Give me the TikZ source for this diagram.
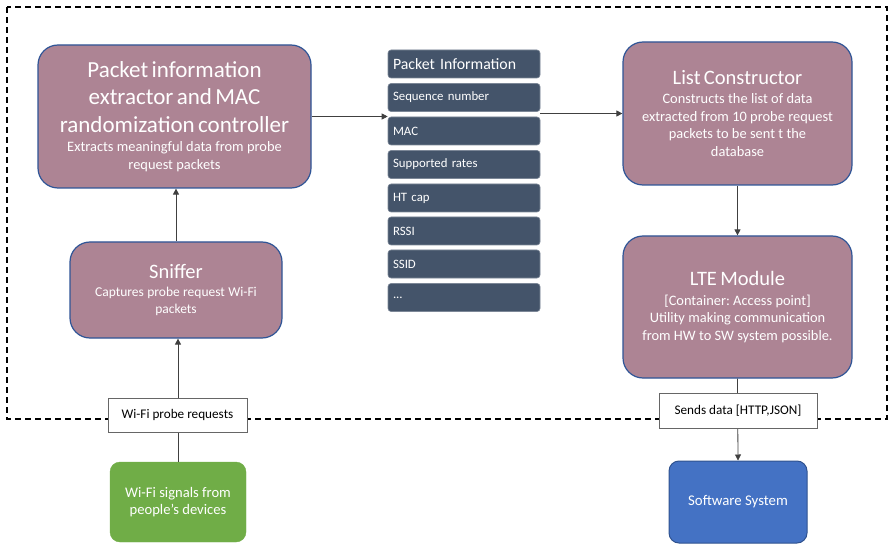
\documentclass[tikz,border=0pt]{standalone}
\usepackage{fontspec}
\setmainfont{Carlito}
\usetikzlibrary{arrows.meta}
\frenchspacing
\definecolor{mauve}{RGB}{173,132,148}
\definecolor{bord}{RGB}{47,85,151}
\definecolor{slate}{RGB}{68,84,106}
\definecolor{wgreen}{RGB}{112,173,71}
\definecolor{wblue}{RGB}{68,114,196}
\definecolor{wbluedark}{RGB}{47,82,143}
\newcommand{\ttl}{\fontsize{23}{27.5}\selectfont}
\newcommand{\ttlb}{\fontsize{20.5}{24.5}\selectfont}
\newcommand{\subt}{\fontsize{14.4}{17.5}\selectfont}
\newcommand{\subtb}{\fontsize{13.5}{17}\selectfont}
\begin{document}
\begin{tikzpicture}[x=1pt,y=-1pt,
  mbox/.style={draw=bord, line width=1.2pt, fill=mauve, rounded corners=20pt, text=white, align=center, inner sep=0pt},
  prow/.style={draw=slate!70!white, line width=0.6pt, fill=slate, rounded corners=3pt, text=white, align=left, text width=142pt, inner xsep=5pt, inner ysep=0pt, minimum height=28pt, font=\fontsize{12.8}{15}\selectfont},
  lbl/.style={draw=black!60, line width=0.7pt, fill=white, inner sep=0pt, font=\fontsize{13.2}{15}\selectfont},
  conn/.style={draw=black!75, line width=0.8pt, -{Triangle[length=6pt,width=6pt]}}
]
\useasboundingbox (0,0) rectangle (888,545);
\draw[black, line width=1.3pt, dash pattern=on 6pt off 4pt] (7,7) rectangle (887,419);

% left column
\node[mbox, minimum width=273pt, minimum height=143pt, text width=265pt] (ext) at (174.5,116.5)
  {\ttl Packet information\\ extractor and MAC\\ randomization controller\par\vspace{2pt}
   \subt Extracts meaningful data from probe\\ request packets\par};
\node[mbox, minimum width=212pt, minimum height=96pt, text width=205pt] (sn) at (176,290)
  {\ttlb Sniffer\par\vspace{1pt} \subtb Captures probe request Wi-Fi\\ packets\par};
\node[draw=wgreen, fill=wgreen, rounded corners=10pt, text=white, align=center, inner sep=0pt,
  minimum width=136pt, minimum height=80pt, font=\fontsize{14.6}{17.7}\selectfont] (grn) at (178,502)
  {Wi-Fi signals from\\ people’s devices};

% packet info column
\node[prow, font=\fontsize{15.8}{18}\selectfont] (p0) at (464,64) {Packet Information};
\node[prow] (p1) at (464,97.5) {Sequence number};
\node[prow] (p2) at (464,131) {MAC};
\node[prow] (p3) at (464,164.5) {Supported rates};
\node[prow] (p4) at (464,198) {HT cap};
\node[prow] (p5) at (464,231) {RSSI};
\node[prow] (p6) at (464,264) {SSID};
\node[prow] (p7) at (464,297.5) {...};

% right column
\node[mbox, minimum width=229pt, minimum height=143pt, text width=222pt] (lst) at (737.5,113.5)
  {\ttlb List Constructor\par\vspace{2pt} \subt Constructs the list of data\\ extracted from 10 probe request\\ packets to be sent t the\\ database\par};
\node[mbox, minimum width=229pt, minimum height=142pt, text width=222pt] (lte) at (737.5,307)
  {\ttlb LTE Module\par\vspace{2pt} \subt [Container: Access point]\\ Utility making communication\\ from HW to SW system possible.\par};
\node[draw=wbluedark, line width=1pt, fill=wblue, rounded corners=10pt, text=white, align=center, inner sep=0pt,
  minimum width=138pt, minimum height=82pt, font=\fontsize{14.8}{17.7}\selectfont] (sw) at (738,502)
  {Software System};

% connectors
\draw[conn] (grn.north) -- (grn.north |- sn.south);
\draw[conn] (sn.north) -- (sn.north |- ext.south);
\draw[conn] (ext.east) -- (ext.east -| p2.west);
\draw[conn] (lst.west -| p1.east) -- (lst.west);
\draw[conn] (lst.south) -- (lte.north);
\draw[conn] (lte.south) -- (sw.north);

% labels on connectors
\node[lbl, minimum width=139pt, minimum height=34pt] (wl) at (177.5,415) {Wi-Fi probe requests};
\node[lbl, minimum width=158pt, minimum height=35pt] (sl) at (738,410.5) {Sends data [HTTP,JSON]};
\end{tikzpicture}
\end{document}
